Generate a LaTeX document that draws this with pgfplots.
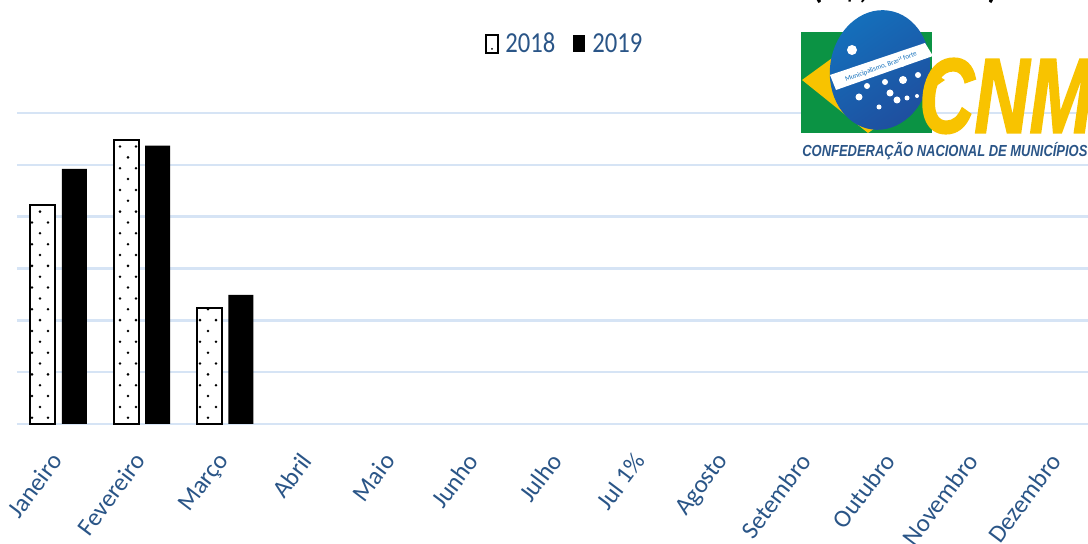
\documentclass[border=0pt]{standalone}
\usepackage{pgfplots}
\pgfplotsset{compat=1.18}
\usepackage{fontspec}
\setmainfont{Carlito}
\newfontfamily\logofont{Liberation Sans}
\newfontfamily\cnmfont[UprightFont=* Bold Italic,FakeBold=2]{Liberation Sans}
\usetikzlibrary{patterns}
\pgfdeclarepatternformonly{sparsedots}{\pgfqpoint{-1pt}{-1pt}}{\pgfqpoint{7pt}{9.85pt}}{\pgfqpoint{8pt}{10.85pt}}{%
  \pgfpathcircle{\pgfqpoint{0pt}{8.85pt}}{0.7pt}%
  \pgfpathcircle{\pgfqpoint{4pt}{3.425pt}}{0.7pt}%
  \pgfusepath{fill}}
\definecolor{lbl}{HTML}{2A5587}
\definecolor{grd}{HTML}{D6E4F5}
\definecolor{flagg}{HTML}{0B9344}
\definecolor{flagy}{HTML}{F8C300}
\definecolor{flagb}{HTML}{1470BC}
\definecolor{flagd}{HTML}{1F4E9E}
\begin{document}
\begin{tikzpicture}
\path[use as bounding box] (0,0) rectangle (544pt,272pt);
\clip (0,0) rectangle (544pt,272pt);
\begin{axis}[
  at={(8.5pt,60pt)},anchor=south west,
  scale only axis,width=535.5pt,height=155.5pt,
  xmin=-0.50,xmax=12.363,ymin=0,ymax=6,
  axis x line*=bottom,axis y line*=left,
  y axis line style={draw=none},
  x axis line style={grd,line width=1.2pt},
  ymajorgrids,ytick={0,1,2,3,4,5,6},yticklabels={},
  grid style={grd,line width=1.2pt},
  major tick length=0pt,
  xtick={0,1,2,3,4,5,6,7,8,9,10,11,12},
  xticklabels={Janeiro,Fevereiro,Março,Abril,Maio,Junho,Julho,Jul 1\%,Agosto,Setembro,Outubro,Novembro,Dezembro},
  x tick label style={rotate=53,anchor=north east,font=\fontsize{12.5}{14}\selectfont,text=lbl,yshift=-1pt,xshift=-10pt},
  ybar=3.25pt,bar width=12.5pt,
  clip=false,
]
\addplot[draw=black,line width=0.9pt,fill=white,postaction={pattern=sparsedots}] coordinates {(0,4.23)(1,5.48)(2,2.24)};
\addplot[draw=none,fill=black] coordinates {(0,4.92)(1,5.37)(2,2.49)};
\end{axis}
\begin{scope}[x=0.5pt,y=-0.5pt,yshift=272pt]
% legend
\draw[black,line width=1pt,fill=white] (486,35) rectangle (498,53);
\fill[black] (492,49) circle (1);
\fill[black] (573,35) rectangle (585,52);
\node[anchor=west,text=lbl,font=\fontsize{14.5}{15}\selectfont,inner sep=0,xscale=0.85] at (505,43) {2018};
\node[anchor=west,text=lbl,font=\fontsize{14.5}{15}\selectfont,inner sep=0,xscale=0.85] at (592,43) {2019};
% title fragment
\node[anchor=base,font=\bfseries\fontsize{17}{18}\selectfont,inner sep=0] at (905,-1) {(R\$, milhões)};
% logo
\fill[flagg] (801,32) rectangle (932,133);
\fill[flagy] (802,80) -- (868,32) -- (945,80) -- (868,133) -- cycle;
\shade[top color=flagb,bottom color=flagd,shading angle=35,rotate around={-8:(880,70)}] (880,70) ellipse [x radius=50,y radius=60];
\fill[white] (830,75) -- (925,43) -- (933,56) -- (836,90) -- cycle;
\node[rotate=20,font=\fontsize{3.5}{4}\selectfont,text=flagb,inner sep=0] at (881,67) {Municipalismo, Brasil forte};
\foreach \p/\r in {(852,50)/5,(902,63)/4,(918,75)/3,(885,82)/3,(903,80)/4,(867,86)/3,(890,93)/3.5,(897,100)/3.5,(907,98)/2.5,(917,96)/2,(859,97)/3.5,(879,107)/2.5}
  \fill[white] \p circle (\r);
\node[anchor=west,font=\cnmfont\fontsize{53}{53}\selectfont,text=flagy,inner sep=0,xscale=0.72] at (919,96) {CNM};
\node[anchor=west,font=\logofont\bfseries\itshape\fontsize{8}{8}\selectfont,text=lbl,inner sep=0,xscale=0.81] at (802,151) {CONFEDERAÇÃO NACIONAL DE MUNICÍPIOS};
\end{scope}
\end{tikzpicture}
\end{document}
